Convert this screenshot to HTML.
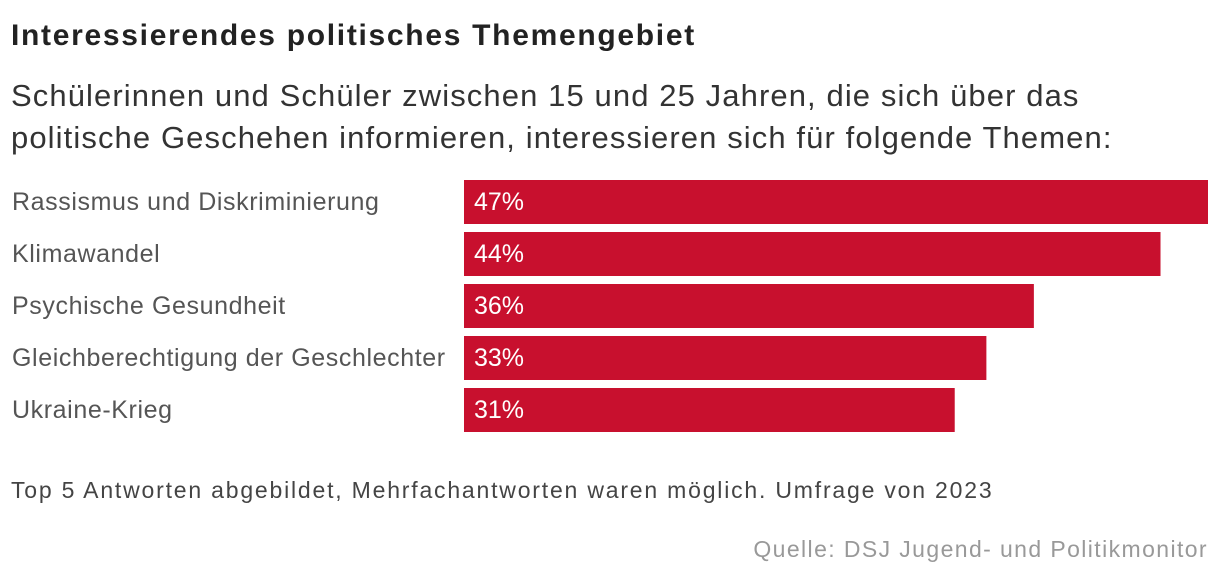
<!DOCTYPE html>
<html><head><meta charset="utf-8"><style>
body{margin:0;width:1220px;height:584px;background:#fff;font-family:"Liberation Sans","DejaVu Sans",sans-serif;overflow:hidden;position:relative}
.t{position:absolute;left:11px;top:19px;font-size:30px;font-weight:bold;color:#222;letter-spacing:1.7px}
.s{position:absolute;left:11px;top:75px;font-size:31px;line-height:42px;color:#333;letter-spacing:1.1px}
.f{position:absolute;left:11px;top:477px;font-size:23px;color:#444;letter-spacing:1.8px}
.q{position:absolute;right:12px;top:536px;font-size:23px;color:#999;letter-spacing:1.4px}
</style></head><body>
<div class="t">Interessierendes politisches Themengebiet</div>
<div class="s">Schülerinnen und Schüler zwischen 15 und 25 Jahren, die sich über das<br>politische Geschehen informieren, interessieren sich für folgende Themen:</div>
<svg id="c" width="1220" height="584" style="position:absolute;left:0;top:0"></svg>
<div class="f">Top 5 Antworten abgebildet, Mehrfachantworten waren möglich. Umfrage von 2023</div>
<div class="q">Quelle: DSJ Jugend- und Politikmonitor</div>
<script>
const categories=["Rassismus und Diskriminierung","Klimawandel","Psychische Gesundheit","Gleichberechtigung der Geschlechter","Ukraine-Krieg"];
const values=[47,44,36,33,31];
const valueLabels=["47%","44%","36%","33%","31%"];
const svg=document.getElementById('c');const NS='http://www.w3.org/2000/svg';
const x0=464,xMax=47,w=744;
const xs=v=>v/xMax*w;
const ys=i=>180+i*52;
categories.forEach((c,i)=>{
 const r=document.createElementNS(NS,'rect');
 r.setAttribute('x',x0);r.setAttribute('y',ys(i));r.setAttribute('width',xs(values[i]));r.setAttribute('height',44);r.setAttribute('fill','#c8102e');
 
 
 svg.appendChild(r);
 const l=document.createElementNS(NS,'text');
 l.setAttribute('x',12);l.setAttribute('y',ys(i)+30);l.setAttribute('font-size','25');l.setAttribute('fill','#555');l.setAttribute('letter-spacing','0.6');l.textContent=c;
 
 
 svg.appendChild(l);
 const v=document.createElementNS(NS,'text');
 v.setAttribute('x',x0+10);v.setAttribute('y',ys(i)+30);v.setAttribute('font-size','25');v.setAttribute('fill','#fff');v.textContent=valueLabels[i];
 
 
 svg.appendChild(v);
});
</script>
</body></html>
